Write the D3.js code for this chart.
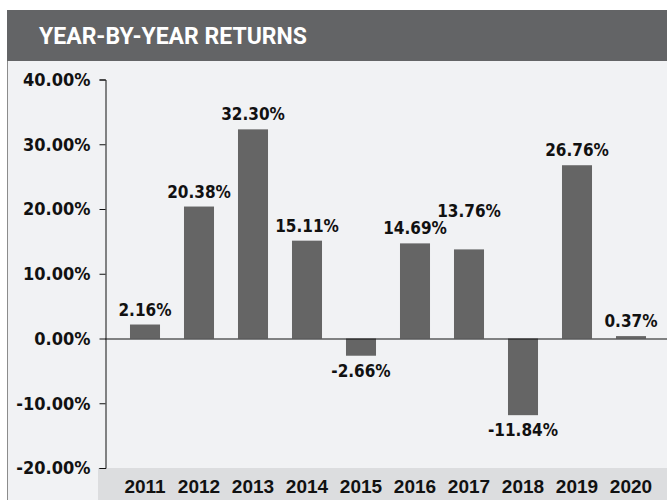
<!DOCTYPE html>
<html>
<head>
<meta charset="utf-8">
<script src="https://cdn.jsdelivr.net/npm/d3@7"></script>
<style>
  body { margin: 0; background: #fff; }
  .num { font-family: "DejaVu Sans Condensed", "DejaVu Sans", sans-serif; font-stretch: condensed; font-weight: bold; fill: #111; }
</style>
</head>
<body>
<div id="chart"></div>
<script>
// Data
const years = ["2011", "2012", "2013", "2014", "2015", "2016", "2017", "2018", "2019", "2020"];
const returns = [2.16, 20.38, 32.30, 15.11, -2.66, 14.69, 13.76, -11.84, 26.76, 0.37];
const yTicks = [40, 30, 20, 10, 0, -10, -20];

const data = years.map((yr, i) => ({ year: yr, value: returns[i] }));

const W = 667, H = 500;

const svg = d3.select("#chart")
    .append("svg")
    .attr("width", W)
    .attr("height", H);

// Header bar
svg.append("rect")
    .attr("x", 7).attr("y", 10)
    .attr("width", W - 7).attr("height", 51)
    .attr("fill", "#636466");

svg.append("text")
    .attr("x", 39).attr("y", 44)
    .attr("fill", "#fff")
    .style("font-family", "Roboto, sans-serif")
    .style("font-weight", "bold")
    .style("font-size", "23px")
    .text("YEAR-BY-YEAR RETURNS");

// Panel background
svg.append("rect")
    .attr("x", 7).attr("y", 61)
    .attr("width", W - 7).attr("height", H - 61)
    .attr("fill", "#f1f2f4");

svg.append("line")
    .attr("x1", 7.5).attr("x2", 7.5)
    .attr("y1", 61).attr("y2", H)
    .attr("stroke", "#8c8c8c");

// Scales
const x = d3.scaleBand()
    .domain(years)
    .range([118, 658])
    .paddingInner(0.444)
    .paddingOuter(0.222);

const y = d3.scaleLinear()
    .domain([-20, 40])
    .range([468, 79.5]);

// Category strip
svg.append("rect")
    .attr("x", 98).attr("y", y(-20))
    .attr("width", W - 98).attr("height", H - y(-20))
    .attr("fill", "#dcdddf");

// Y axis
const yAxis = svg.append("g")
    .attr("transform", "translate(105.5,0)")
    .call(d3.axisLeft(y)
        .tickValues(yTicks)
        .tickFormat(d => d.toFixed(2) + "%")
        .tickSize(6)
        .tickPadding(9));

yAxis.selectAll("path, line").attr("stroke", "#111");
yAxis.selectAll("text")
    .attr("class", "num")
    .attr("font-family", null)
    .attr("font-size", null)
    .style("font-size", "18px");

// Bars
svg.append("g")
    .selectAll("rect")
    .data(data)
    .enter()
    .append("rect")
    .attr("x", d => x(d.year))
    .attr("width", x.bandwidth())
    .attr("y", d => Math.min(y(d.value), y(0)))
    .attr("height", d => Math.abs(y(d.value) - y(0)))
    .attr("fill", "#656565");

// Zero line
svg.append("line")
    .attr("x1", 105).attr("x2", W)
    .attr("y1", y(0) + 0.5).attr("y2", y(0) + 0.5)
    .attr("stroke", "#111")
    .attr("stroke-width", 1.2);

// Value labels, bumped up when they collide with the previous one
let prev = null;
data.forEach(d => {
    if (d.value >= 0) {
        d.ly = y(d.value) - 9;
        if (prev && prev.value >= 0 && Math.abs(prev.ly - d.ly) < 16) {
            d.ly = prev.ly - 17;
        }
    } else {
        d.ly = y(d.value) + 21;
    }
    prev = d;
});

svg.append("g")
    .selectAll("text")
    .data(data)
    .enter()
    .append("text")
    .attr("class", "num")
    .attr("x", d => x(d.year) + x.bandwidth() / 2)
    .attr("y", d => d.ly)
    .attr("text-anchor", "middle")
    .style("font-size", "17px")
    .text(d => d.value.toFixed(2) + "%");

// Year labels
svg.append("g")
    .selectAll("text")
    .data(years)
    .enter()
    .append("text")
    .attr("x", d => x(d) + x.bandwidth() / 2)
    .attr("y", 493)
    .attr("text-anchor", "middle")
    .attr("fill", "#111")
    .style("font-family", "'Liberation Sans Narrow', sans-serif")
    .style("font-weight", "bold")
    .style("font-size", "19px")
    .text(d => d);
</script>
</body>
</html>
